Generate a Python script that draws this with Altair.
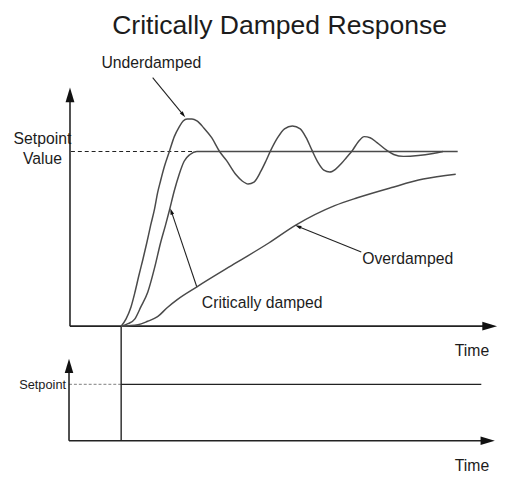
import altair as alt
import pandas as pd

# ---- data (time units, response units: 0 = baseline, 1 = setpoint) ----
under_t = [0, 0.5, 1.0, 1.4, 1.8, 2.2, 2.6, 3.0, 3.4, 3.7, 4.0, 4.4, 4.9, 5.4, 5.9, 6.3, 6.7, 7.2, 7.7,
           8.4, 9.2, 10.0, 10.7, 11.7, 12.3, 12.9, 13.5, 14.2, 14.7, 15.2, 15.9, 16.6, 17.4, 18.2,
           18.8, 19.4, 20.0, 20.6, 21.2, 21.8, 22.4, 22.9, 23.5, 24.1, 24.7, 25.3, 26.0, 27.0,
           27.7, 28.7, 30.2, 31.7, 32.7]
under_r = [0, 0.042, 0.110, 0.194, 0.290, 0.380, 0.476, 0.578, 0.673, 0.763, 0.831, 0.915, 1.0,
           1.085, 1.141, 1.175, 1.186, 1.186, 1.175, 1.135, 1.079, 1.0, 0.949, 0.865, 0.831, 0.814,
           0.825, 0.887, 0.944, 1.006, 1.079, 1.130, 1.146, 1.130, 1.079, 1.006, 0.938, 0.893,
           0.882, 0.899, 0.932, 0.966, 1.006, 1.056, 1.085, 1.079, 1.051, 1.006, 0.983, 0.972,
           0.977, 0.989, 1.0]

crit_t = [0, 0.7, 1.4, 2.0, 2.7, 3.4, 4.0, 4.5, 4.9, 5.4, 5.9, 6.4, 7.0, 7.7, 34.2]
crit_r = [0, 0.014, 0.042, 0.110, 0.194, 0.335, 0.476, 0.577, 0.662, 0.775, 0.870, 0.944, 0.983,
          1.0, 1.0]

over_t = [0, 1.7, 2.7, 3.7, 4.7, 5.7, 7.7, 11.7, 15.0, 17.7, 21.7, 24.0, 27.4, 30.7, 34.0]
over_r = [0, 0.008, 0.028, 0.054, 0.107, 0.152, 0.225, 0.363, 0.476, 0.577, 0.690, 0.735, 0.792,
          0.842, 0.870]

setpoint_level = 1.0
lower_base = -0.656
lower_setpoint = -0.3335
step_time = 0.0

T_DOMAIN = [-11.5, 38.5]
R_DOMAIN = [-0.84225, 1.8]

rows = []
for name, ts, rs in [("Underdamped", under_t, under_r),
                     ("Critically damped", crit_t, crit_r),
                     ("Overdamped", over_t, over_r)]:
    for i, (t, r) in enumerate(zip(ts, rs)):
        rows.append({"series": name, "t": t, "r": r, "i": i})
curves = pd.DataFrame(rows)

solid = pd.DataFrame([
    {"t": -5.2, "r": 0, "t2": -5.2, "r2": 1.32, "w": 1.6},            # main y axis
    {"t": -5.2, "r": 0, "t2": 37.5, "r2": 0, "w": 1.6},               # main x axis
    {"t": -5.3, "r": lower_base, "t2": -5.3, "r2": -0.23, "w": 1.6},  # lower y axis
    {"t": -5.3, "r": lower_base, "t2": 37.3, "r2": lower_base, "w": 1.6},  # lower x axis
    {"t": step_time, "r": 0, "t2": step_time, "r2": lower_base, "w": 1.4},  # step marker
    {"t": step_time, "r": lower_setpoint, "t2": 36.6, "r2": lower_setpoint, "w": 1.4},
    {"t": 3.2, "r": 1.4225, "t2": 6.31, "r2": 1.21, "w": 1.1},        # annotation arrows
    {"t": 7.7, "r": 0.2225, "t2": 5.1, "r2": 0.657, "w": 1.1},
    {"t": 24.4, "r": 0.425, "t2": 17.98, "r2": 0.571, "w": 1.1},
])

dashed_main = pd.DataFrame([{"t": -5.1, "r": setpoint_level, "t2": 7.7, "r2": setpoint_level}])
dashed_low = pd.DataFrame([{"t": -5.3, "r": lower_setpoint, "t2": step_time, "r2": lower_setpoint}])

heads = pd.DataFrame([
    {"t": -5.2, "r": 1.324, "angle": 0, "size": 225},
    {"t": 37.45, "r": 0, "angle": 90, "size": 225},
    {"t": -5.3, "r": -0.228, "angle": 0, "size": 210},
    {"t": 37.25, "r": lower_base, "angle": 90, "size": 210},
    {"t": 6.31, "r": 1.21, "angle": 140, "size": 40},
    {"t": 5.1, "r": 0.657, "angle": 341, "size": 40},
    {"t": 17.98, "r": 0.571, "angle": 293, "size": 40},
])

texts_center = pd.DataFrame([
    {"t": 16.1, "r": 1.715, "label": "Critically Damped Response", "size": 27},
    {"t": -8.0, "r": 1.073, "label": "Setpoint", "size": 16},
    {"t": -8.0, "r": 0.955, "label": "Value", "size": 16},
])
texts_left = pd.DataFrame([
    {"t": -2.0, "r": 1.507, "label": "Underdamped", "size": 16},
    {"t": 8.2, "r": 0.132, "label": "Critically damped", "size": 16},
    {"t": 24.5, "r": 0.386, "label": "Overdamped", "size": 16},
])
texts_right = pd.DataFrame([
    {"t": 37.4, "r": -0.144, "label": "Time", "size": 16},
    {"t": 37.4, "r": -0.803, "label": "Time", "size": 16},
    {"t": -5.6, "r": -0.335, "label": "Setpoint", "size": 13},
])

xs = alt.Scale(domain=T_DOMAIN, nice=False, zero=False)
ys = alt.Scale(domain=R_DOMAIN, nice=False, zero=False)
X = alt.X("t:Q", scale=xs, axis=None)
Y = alt.Y("r:Q", scale=ys, axis=None)

curve_layer = alt.Chart(curves).mark_line(color="#4a4a4a", strokeWidth=1.5, interpolate="monotone").encode(
    x=X, y=Y, detail="series:N", order="i:Q")

rule_layer = alt.Chart(solid).mark_rule(color="#222222").encode(
    x=X, y=Y, x2="t2:Q", y2="r2:Q", strokeWidth=alt.StrokeWidth("w:Q", scale=None))

dash_main_layer = alt.Chart(dashed_main).mark_rule(color="#222222", strokeWidth=1.2, strokeDash=[4, 3]).encode(
    x=X, y=Y, x2="t2:Q", y2="r2:Q")
dash_low_layer = alt.Chart(dashed_low).mark_rule(color="#999999", strokeWidth=1.2, strokeDash=[3, 2]).encode(
    x=X, y=Y, x2="t2:Q", y2="r2:Q")

head_layer = alt.Chart(heads).mark_point(
    shape="M0,-1L0.6,1L-0.6,1Z", filled=True, color="#111111", opacity=1, strokeWidth=0).encode(
    x=X, y=Y, angle=alt.Angle("angle:Q", scale=None), size=alt.Size("size:Q", scale=None))

def text_layer(df, align):
    return alt.Chart(df).mark_text(align=align, baseline="middle", font="Liberation Sans",
                                   color="#1c1c1c").encode(
        x=X, y=Y, text="label:N", size=alt.Size("size:Q", scale=None))

chart = alt.layer(
    dash_main_layer, dash_low_layer, rule_layer, curve_layer, head_layer,
    text_layer(texts_center, "center"), text_layer(texts_left, "left"), text_layer(texts_right, "right"),
).properties(
    width=500, height=469, padding=0, autosize=alt.AutoSizeParams(type="none"), background="white"
).configure_view(stroke="transparent")

chart.save("out.html", embed_options={"renderer": "svg", "actions": False})
